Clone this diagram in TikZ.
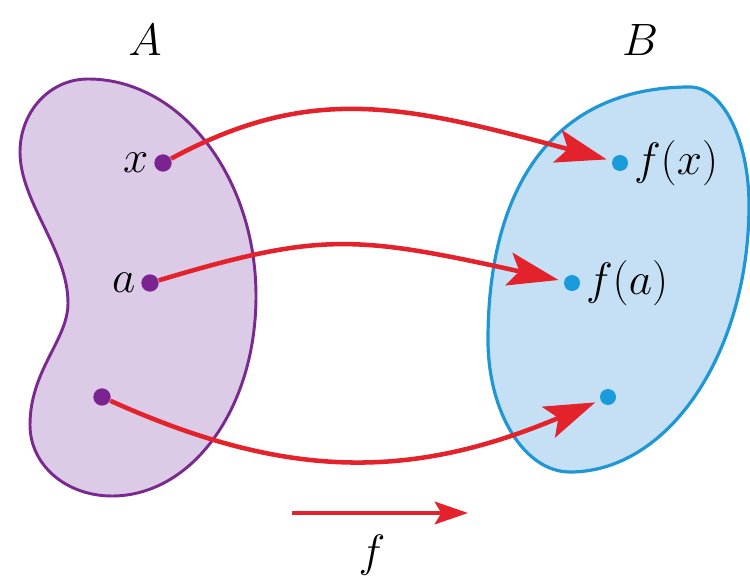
\RequirePackage{fix-cm}
\documentclass[tikz,border=0pt]{standalone}
\usetikzlibrary{arrows.meta}

\definecolor{kidneyline}{HTML}{7A2A8E}
\definecolor{kidneyfill}{HTML}{DCCBE6}
\definecolor{ovalline}{HTML}{1E97D4}
\definecolor{ovalfill}{HTML}{C5E0F5}
\definecolor{mapred}{HTML}{E3222B}
\definecolor{dotpurple}{HTML}{7B2390}
\definecolor{dotblue}{HTML}{1A9BDB}

\tikzset{every picture/.style={line width=0.75pt}}
\tikzset{
  dotA/.style={circle,fill=dotpurple,inner sep=0pt,minimum size=13pt},
  dotB/.style={circle,fill=dotblue,inner sep=0pt,minimum size=12pt},
  maparrow/.style={draw=mapred,line width=3.4pt,shorten >=4pt,
    -{Stealth[length=38pt,width=25pt,inset=8pt]}},
  bigmath/.style={inner sep=0.75pt,font=\fontsize{34}{40}\selectfont}
}

\begin{document}
\begin{tikzpicture}[x=0.75pt,y=0.75pt,yscale=-1,xscale=1]
\useasboundingbox (0,0) rectangle (750,588);

%Shape: Kidney [set A]
\draw [draw=kidneyline,fill=kidneyfill,line width=2.2pt]
  (88,79) .. controls (49.4,79) and (20,112) .. (20,152)
  .. controls (20,202) and (68,250) .. (68,303)
  .. controls (68,340) and (30,370) .. (30,425)
  .. controls (30,465) and (66,496) .. (112,496)
  .. controls (191.4,496) and (256,409.3) .. (256,296)
  .. controls (256,177.5) and (181,79) .. (88,79) -- cycle;
%Shape: Oval [set B]
\draw [draw=ovalline,fill=ovalfill,line width=2.4pt]
  (690,87) .. controls (722.6,87) and (749,139.9) .. (749,205)
  .. controls (749,352.4) and (668.8,472) .. (570,472)
  .. controls (524.7,472) and (488,412.9) .. (488,340)
  .. controls (488,185) and (555,87) .. (690,87) -- cycle;

% Points
\node [dotA] (x) at (163,163) {};
\node [dotA] (a) at (150,283) {};
\node [dotA] (p) at (102,397) {};
\node [dotB] (fx) at (620,163) {};
\node [dotB] (fa) at (572,283) {};
\node [dotB] (fp) at (608,397) {};

% Text Node
\node [bigmath] (labA) at (145,40) {$A$};
% Text Node
\node [bigmath] (labB) at (640,40) {$B$};
% Text Node
\node [bigmath,left=3pt] (labx) at (x.west) {$x$};
% Text Node
\node [bigmath,left=3pt] (laba) at (a.west) {$a$};
% Text Node
\node [bigmath,right=3pt] (labfx) at (fx.east) {$f(x)$};
% Text Node
\node [bigmath,right=3pt] (labfa) at (fa.east) {$f(a)$};

% Arrows
\draw [maparrow] (x) .. controls (313,82) and (407,106) .. (fx);
\draw [maparrow] (a) .. controls (320,232) and (355,235) .. (fa);
\draw [maparrow] (p) .. controls (282,478) and (407,482) .. (fp);

% Bottom arrow
\coordinate (ftail) at (292,513);
\coordinate (fhead) at (468,513);
\draw [draw=mapred,line width=2.8pt,-{Stealth[length=25pt,width=17pt,inset=5pt]}] (ftail) -- (fhead);
% Text Node
\node [bigmath] (labf) at (372,555) {$f$};

\end{tikzpicture}
\end{document}
